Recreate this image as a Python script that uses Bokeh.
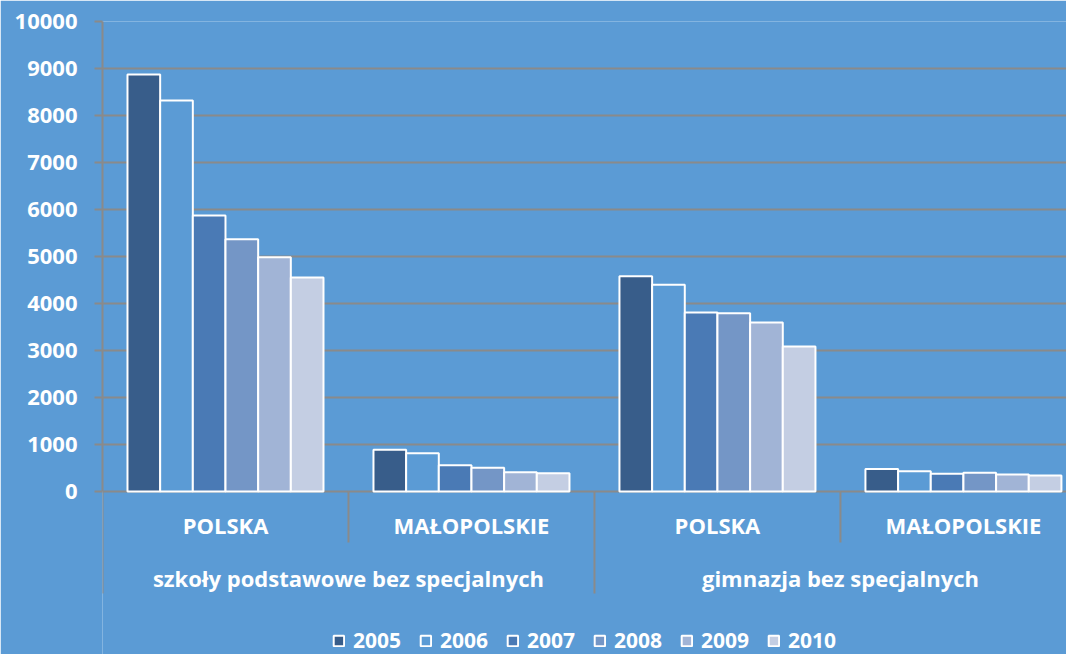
from bokeh.plotting import figure
from bokeh.models import Range1d, FixedTicker, ColumnDataSource, Legend, LegendItem
from bokeh.core.properties import value
from bokeh.transform import dodge
from bokeh.embed import file_html
from bokeh.resources import INLINE

# ---- data ----
groups = ["szkoły podstawowe bez specjalnych", "gimnazja bez specjalnych"]
regions = ["POLSKA", "MAŁOPOLSKIE", "POLSKA", "MAŁOPOLSKIE"]
years = ["2005", "2006", "2007", "2008", "2009", "2010"]
v2005 = [8870, 890, 4580, 480]
v2006 = [8320, 815, 4400, 432]
v2007 = [5870, 560, 3810, 376]
v2008 = [5365, 505, 3790, 397]
v2009 = [4985, 412, 3595, 362]
v2010 = [4555, 390, 3085, 340]
series = [v2005, v2006, v2007, v2008, v2009, v2010]
colors = ["#385D8A", "#5B9BD5", "#4A7AB5", "#7496C6", "#A1B4D6", "#C4CEE3"]
yticks = list(range(0, 10001, 1000))

BG = "#5B9BD5"
GRID = "#8A8A8A"
FONT = "Open Sans"

p = figure(width=1066, height=654, output_backend="svg", toolbar_location=None,
           x_range=Range1d(0, 3.919), y_range=Range1d(-3468, 10000),
           x_axis_location=None, min_border_left=102, min_border_right=0,
           min_border_top=21, min_border_bottom=0)
p.background_fill_color = BG
p.border_fill_color = BG
p.outline_line_color = None
p.xgrid.visible = False

p.yaxis.ticker = FixedTicker(ticks=yticks)
p.yaxis.bounds = (0, 10000)
p.ygrid.bounds = (0, 10000)
p.ygrid.grid_line_color = GRID
p.ygrid.grid_line_width = 2
p.yaxis.axis_line_color = GRID
p.yaxis.axis_line_width = 2
p.yaxis.major_tick_line_color = GRID
p.yaxis.major_tick_line_width = 2
p.yaxis.major_tick_out = 8
p.yaxis.major_tick_in = 0
p.yaxis.minor_tick_line_color = None
p.yaxis.major_label_standoff = 17
p.yaxis.major_label_text_color = "white"
p.yaxis.major_label_text_font = FONT
p.yaxis.major_label_text_font_style = "bold"
p.yaxis.major_label_text_font_size = "22px"

n = len(years)
bw = 0.1328
src = ColumnDataSource(dict(xc=[i + 0.5 for i in range(len(regions))],
                            **{y: s for y, s in zip(years, series)}))
items = []
for j, (yr, col) in enumerate(zip(years, colors)):
    r = p.vbar(x=dodge("xc", (j - (n - 1) / 2) * bw, range=p.x_range), top=yr,
               width=bw, bottom=0, source=src, fill_color=col,
               line_color="white", line_width=2)
    items.append(LegendItem(label=yr, renderers=[r]))

# separators below the axis
sep_x = [0, 1, 2, 3, 4]
sep_len = [-2170, -1085, -2170, -1085, -2170]
p.segment(x0=sep_x, y0=[0] * 5, x1=sep_x, y1=sep_len, line_color=GRID, line_width=2)

# category labels
p.text(x=[i + 0.5 for i in range(len(regions))], y=[-723] * len(regions), text=regions,
       text_align="center", text_baseline="middle", text_color="white",
       text_font=value(FONT), text_font_style="bold", text_font_size="22px")
p.text(x=[1.0, 3.0], y=[-1830, -1830], text=groups,
       text_align="center", text_baseline="middle", text_color="white",
       text_font=value(FONT), text_font_style="bold", text_font_size="22px")

legend = Legend(items=items, orientation="horizontal", location="bottom_center",
                background_fill_alpha=0, border_line_color=None,
                label_text_color="white", label_text_font=FONT,
                label_text_font_style="bold", label_text_font_size="21px",
                glyph_width=13, glyph_height=13, label_standoff=8, spacing=18,
                padding=0, margin=0)
p.add_layout(legend)

open("out.html", "w").write(file_html(p, INLINE))
